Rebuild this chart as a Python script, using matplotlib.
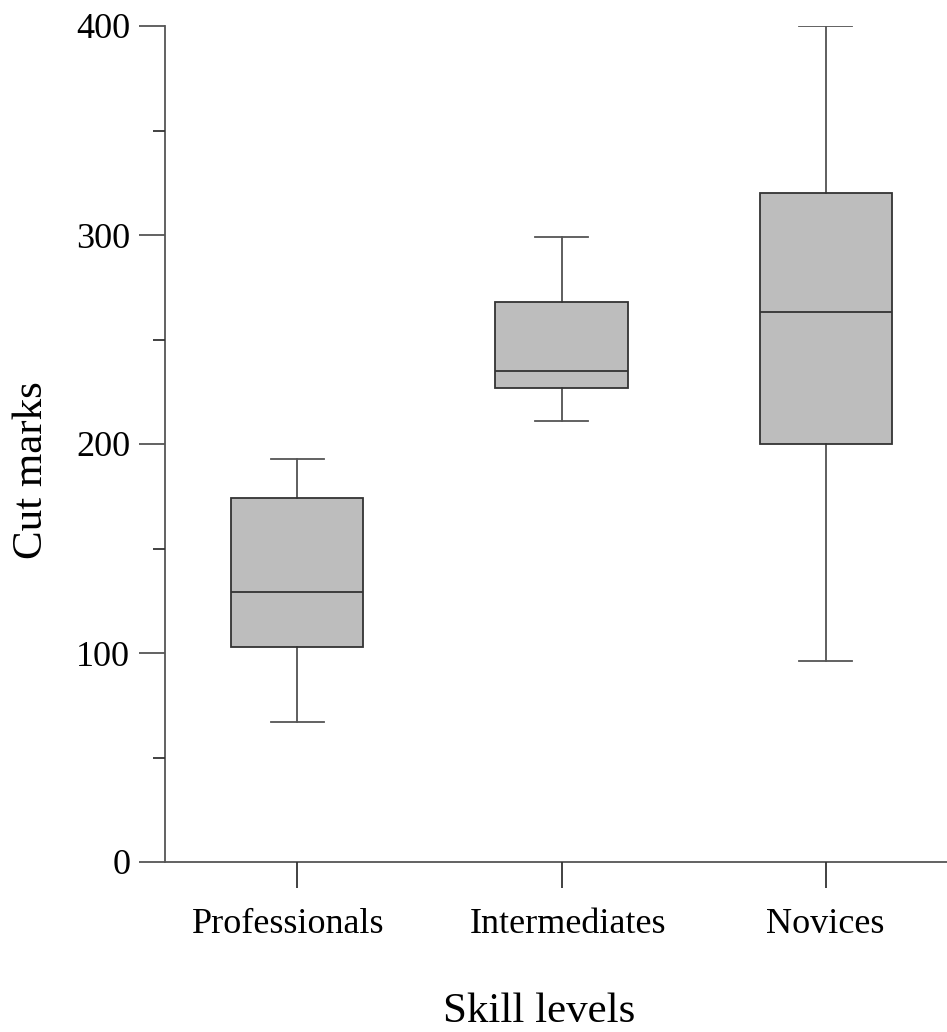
import matplotlib
matplotlib.use("Agg")
import matplotlib.pyplot as plt
from matplotlib.ticker import MultipleLocator
from matplotlib.transforms import ScaledTranslation

plt.rcParams['font.family'] = ['Liberation Serif', 'DejaVu Serif']

# box statistics
groups = ['Professionals', 'Intermediates', 'Novices']
whislo = [67, 211, 96]
q1 = [103, 227, 200]
med = [129, 235, 263]
q3 = [174, 268, 320]
whishi = [193, 299, 400]

stats = []
for name, lo, a, m, b, hi in zip(groups, whislo, q1, med, q3, whishi):
    stats.append(dict(label=name, whislo=lo, q1=a, med=m, q3=b, whishi=hi, fliers=[]))

fig = plt.figure(figsize=(9.47, 10.32), dpi=100)
ax = fig.add_axes([165 / 947, 170 / 1032, 782 / 947, 836 / 1032])

edge = '#333333'
ax.bxp(stats, positions=[1, 2, 3], widths=0.5, capwidths=0.2, patch_artist=True,
       showfliers=False,
       boxprops=dict(facecolor='#bdbdbd', edgecolor=edge, linewidth=1.3),
       medianprops=dict(color=edge, linewidth=1.3),
       whiskerprops=dict(color=edge, linewidth=1.1),
       capprops=dict(color='#555555', linewidth=1.3))

ax.set_xlim(0.5, 3.458)
ax.set_ylim(0, 400)
ax.yaxis.set_major_locator(MultipleLocator(100))
ax.yaxis.set_minor_locator(MultipleLocator(50))

for s in ['top', 'right']:
    ax.spines[s].set_visible(False)
for s in ['left', 'bottom']:
    ax.spines[s].set_color('#555555')
    ax.spines[s].set_linewidth(1.3)
    ax.spines[s].set_zorder(0)

ax.tick_params(axis='y', which='major', length=19, width=1.3, color='#555555',
               labelsize=26, pad=6)
ax.tick_params(axis='y', which='minor', length=9, width=1.3, color='#333333')
ax.tick_params(axis='x', which='major', length=19, width=1.3, color='#333333',
               labelsize=26, pad=14)

# the category labels in the original sit a little off their ticks
shifts = [-9, 6, -1]
for lab, dx in zip(ax.get_xticklabels(), shifts):
    lab.set_transform(lab.get_transform() + ScaledTranslation(dx / 100, 0, fig.dpi_scale_trans))

ax.set_ylabel('Cut marks', fontsize=31)
ax.yaxis.set_label_coords(51 / 947, (1032 - 470) / 1032, transform=fig.transFigure)
ax.set_xlabel('Skill levels', fontsize=31, va='bottom')
ax.xaxis.set_label_coords(539 / 947, 1 / 1032, transform=fig.transFigure)

fig.savefig('out.png', dpi=100)
